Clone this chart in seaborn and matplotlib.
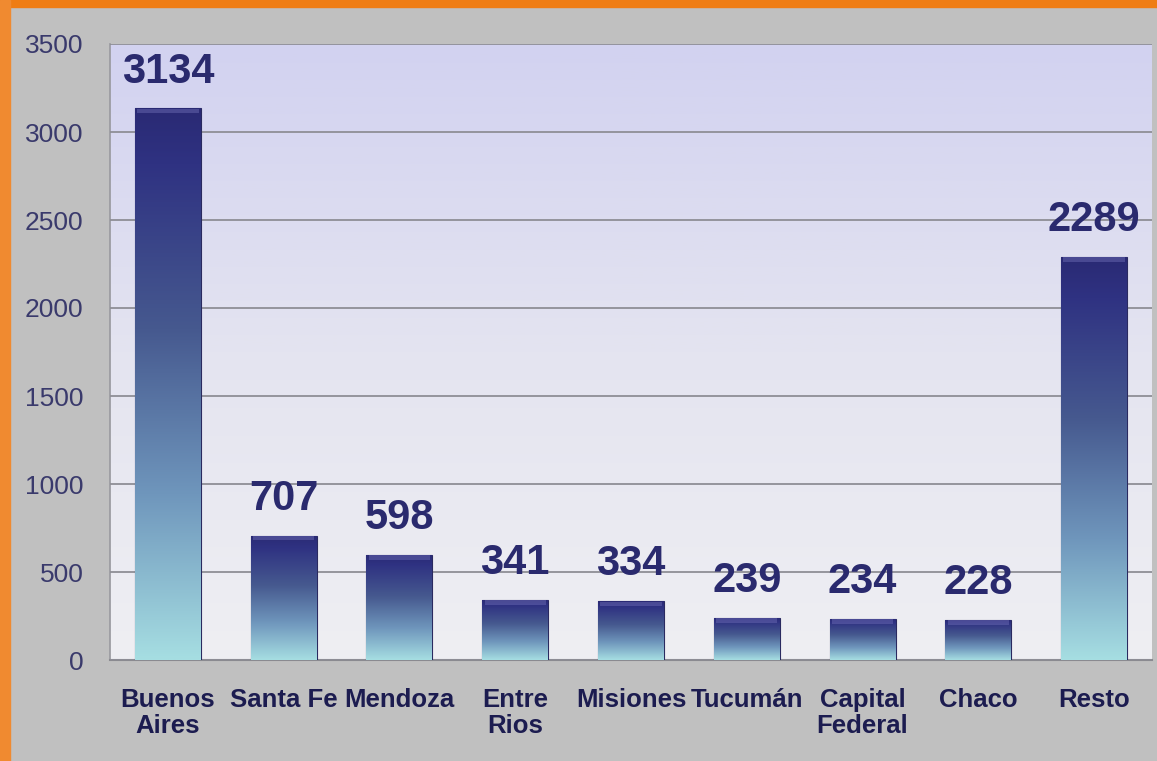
import numpy as np
import matplotlib.pyplot as plt
import seaborn as sns
from matplotlib.colors import LinearSegmentedColormap
from matplotlib.patches import Rectangle

# datos del grafico
provincias = ['Buenos\nAires', 'Santa Fe', 'Mendoza', 'Entre\nRios', 'Misiones',
              'Tucumán', 'Capital\nFederal', 'Chaco', 'Resto']
casos = [3134, 707, 598, 341, 334, 239, 234, 228, 2289]
ticks_y = [0, 500, 1000, 1500, 2000, 2500, 3000, 3500]

sns.set_theme(style='white')
plt.rcParams['font.family'] = ['Liberation Sans', 'DejaVu Sans']

fig = plt.figure(figsize=(11.57, 7.61), dpi=100, facecolor='#c0c0c0')
W, H = 1157, 761
ax = fig.add_axes([110 / W, (H - 660) / H, (1152 - 110) / W, (660 - 44) / H])

# bordes naranjas
fig.add_artist(Rectangle((0, 1 - 7 / H), 1, 7 / H, transform=fig.transFigure,
                         color='#ef7d14', zorder=0))
borde = LinearSegmentedColormap.from_list('borde', ['#f3a060', '#f08a30', '#ee7d18'])
fig.add_artist(Rectangle((0, 0), 10 / W, 1, transform=fig.transFigure,
                         color='#f08a30', zorder=0))

sns.barplot(x=provincias, y=casos, ax=ax, width=0.57, color='#3a3a80',
            edgecolor='#2a2a60', linewidth=0.8, zorder=3)

ax.set_xlim(-0.5, len(provincias) - 0.5)
ax.set_ylim(0, 3500)
ax.set_yticks(ticks_y)

# fondo degradado
fondo = LinearSegmentedColormap.from_list('fondo', ['#efeff3', '#e4e4f0', '#d2d2f0'])
grad = np.linspace(0, 1, 256).reshape(-1, 1)
ax.imshow(grad, aspect='auto', cmap=fondo, origin='lower',
          extent=[-0.5, len(provincias) - 0.5, 0, 3500], zorder=0)

# degradado de cada barra
barra = LinearSegmentedColormap.from_list(
    'barra', [(0, '#a6dee2'), (0.3, '#6f96bc'), (0.6, '#46598f'),
              (0.9, '#2f3282'), (1, '#2a2a74')])
for p in ax.patches:
    x0, y0 = p.get_x(), p.get_y()
    w, h = p.get_width(), p.get_height()
    img = ax.imshow(grad, aspect='auto', cmap=barra, origin='lower',
                    extent=[x0, x0 + w, y0, y0 + h], zorder=4)
    img.set_clip_path(p)
    # biselado superior
    ax.add_patch(Rectangle((x0 + 0.02, y0 + h - 28), w - 0.04, 26, color='#7070b8',
                           alpha=0.45, zorder=5, lw=0))

for i, v in enumerate(casos):
    ax.text(i, v + 95, str(v), ha='center', va='bottom', fontsize=30,
            fontweight='bold', color='#2a2a6e', zorder=6,
            family=['Liberation Sans Narrow', 'Liberation Sans', 'DejaVu Sans'])

ax.yaxis.grid(True, color='#8e8e96', linewidth=1.3, zorder=1)
ax.set_axisbelow(False)
for s in ['top', 'right']:
    ax.spines[s].set_visible(False)
ax.spines['left'].set_color('#9a9aa0')
ax.spines['bottom'].set_color('#8a8a90')
ax.spines['bottom'].set_linewidth(1.5)

ax.tick_params(axis='y', length=0, pad=19, labelsize=19, labelcolor='#3a3a6c')
ax.tick_params(axis='x', length=0, pad=20, labelsize=18.5, labelcolor='#1c1c50')
for t in ax.get_xticklabels():
    t.set_fontweight('bold')
    t.set_linespacing(1.1)
ax.set_xlabel('')
ax.set_ylabel('')

fig.savefig('out.png', dpi=100, facecolor=fig.get_facecolor())
